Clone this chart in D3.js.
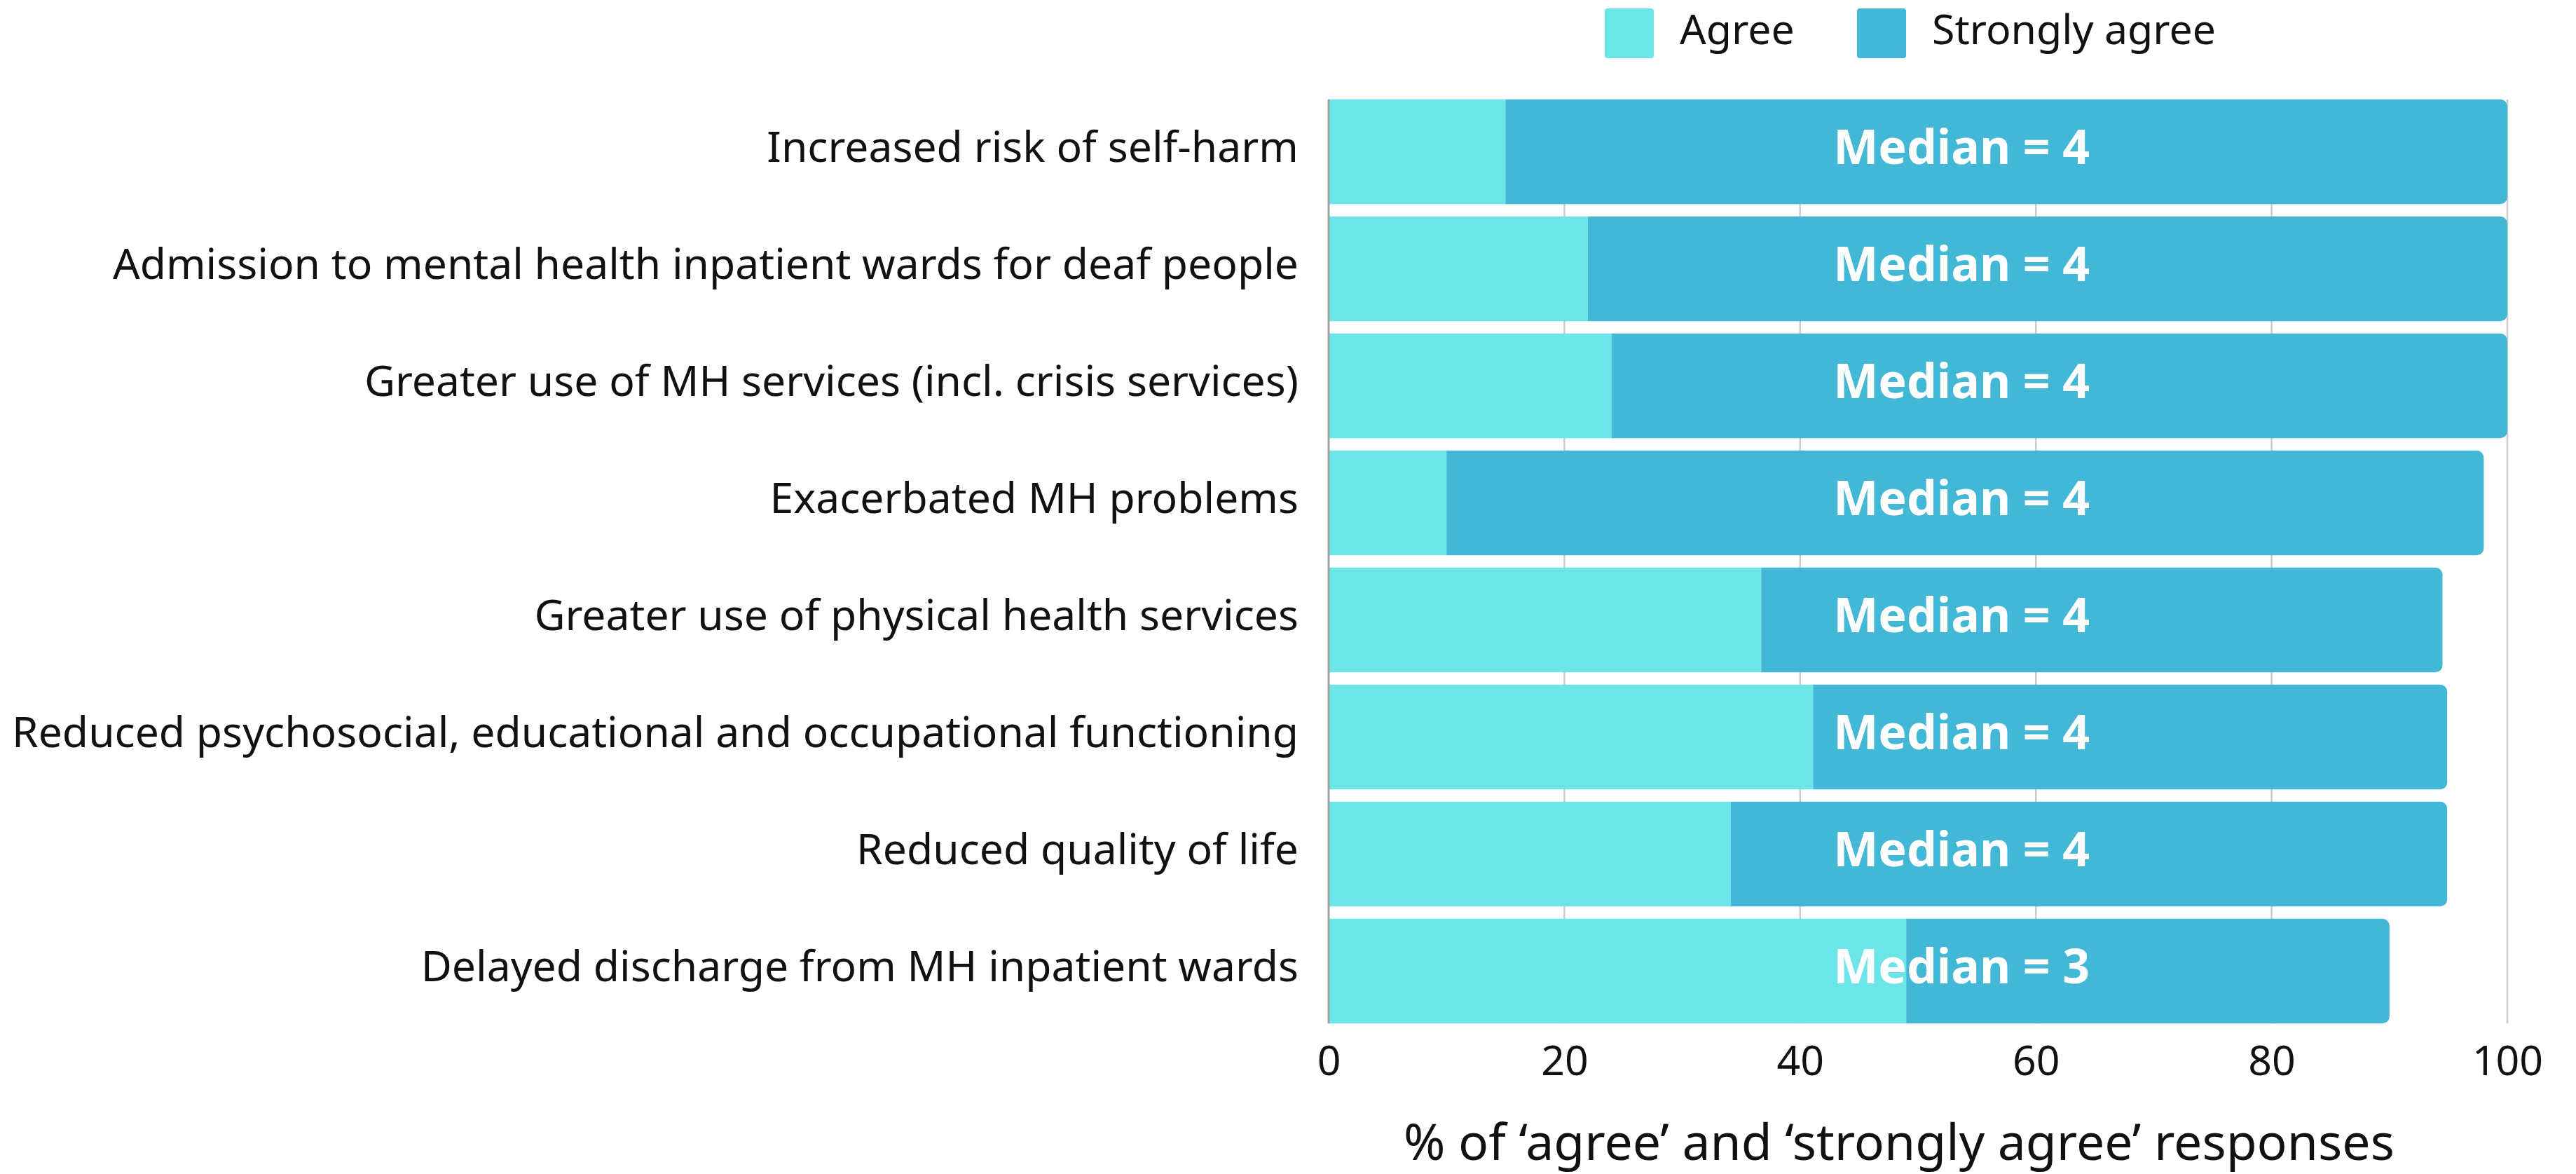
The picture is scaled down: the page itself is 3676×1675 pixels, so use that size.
<!DOCTYPE html>
<html>
<head>
<meta charset="utf-8">
<script src="https://cdn.jsdelivr.net/npm/d3@7"></script>
<style>
  html, body { margin: 0; padding: 0; background: #ffffff; }
  svg { display: block; }
</style>
</head>
<body>
<svg id="chart" width="3676" height="1675"></svg>
<script>
// Perceived consequences, ordered top to bottom
const categories = [
  "Increased risk of self-harm",
  "Admission to mental health inpatient wards for deaf people",
  "Greater use of MH services (incl. crisis services)",
  "Exacerbated MH problems",
  "Greater use of physical health services",
  "Reduced psychosocial, educational and occupational functioning",
  "Reduced quality of life",
  "Delayed discharge from MH inpatient wards"
];
// % of responses per item
const agree         = [15, 22, 24, 10, 36.7, 41.1, 34.1, 49];
const stronglyAgree = [85, 78, 76, 88, 57.8, 53.8, 60.8, 41];
const medians       = [4, 4, 4, 4, 4, 4, 4, 3];
const xTicks        = [0, 20, 40, 60, 80, 100];
const seriesNames   = ["Agree", "Strongly agree"];
const seriesColors  = ["#6ce5e8", "#42b7d6"];
const xTitle        = "% of \u2018agree\u2019 and \u2018strongly agree\u2019 responses";

const FONT = "'Noto Sans', Roboto, sans-serif";
const svg = d3.select("#chart");

const x = d3.scaleLinear().domain([0, 100]).range([1896, 3578]);
const y = d3.scaleBand().domain(categories).range([133, 1469]).paddingInner(0.105).paddingOuter(0.0525);

const rows = categories.map((c, i) => ({
  cat: c, agree: agree[i], strong: stronglyAgree[i], median: medians[i]
}));

const gridTop = y(categories[0]);
const gridBottom = y(categories[categories.length - 1]) + y.bandwidth();

// vertical gridlines behind the bars
svg.append("g")
  .selectAll("line")
  .data(xTicks.filter(t => t !== 0))
  .join("line")
  .attr("x1", d => x(d)).attr("x2", d => x(d))
  .attr("y1", gridTop).attr("y2", gridBottom)
  .attr("stroke", "#cccccc")
  .attr("stroke-width", 2.5);

// stacked bars
const barG = svg.append("g");
barG.selectAll("rect.agree")
  .data(rows)
  .join("rect")
  .attr("class", "agree")
  .attr("x", x(0))
  .attr("y", d => y(d.cat))
  .attr("width", d => x(d.agree) - x(0))
  .attr("height", y.bandwidth())
  .attr("fill", seriesColors[0]);

// "strongly agree" segment, rounded on its right end
const r = 10;
barG.selectAll("path.strong")
  .data(rows)
  .join("path")
  .attr("class", "strong")
  .attr("fill", seriesColors[1])
  .attr("d", d => {
    const x0 = x(d.agree), x1 = x(d.agree + d.strong);
    const y0 = y(d.cat), h = y.bandwidth();
    return `M${x0},${y0}H${x1 - r}A${r},${r} 0 0 1 ${x1},${y0 + r}V${y0 + h - r}A${r},${r} 0 0 1 ${x1 - r},${y0 + h}H${x0}Z`;
  });

// zero baseline
svg.append("line")
  .attr("x1", x(0)).attr("x2", x(0))
  .attr("y1", gridTop).attr("y2", gridBottom)
  .attr("stroke", "#a0a0a0")
  .attr("stroke-width", 3);

// median labels
svg.append("g")
  .selectAll("text")
  .data(rows)
  .join("text")
  .attr("x", x(53.7))
  .attr("y", d => y(d.cat) + y.bandwidth() / 2)
  .attr("dy", "0.26em")
  .attr("text-anchor", "middle")
  .attr("fill", "#ffffff")
  .attr("font-family", FONT)
  .attr("font-weight", 700)
  .attr("font-size", 68)
  .text(d => `Median = ${d.median}`);

// category axis
const yAxis = svg.append("g")
  .attr("transform", `translate(${x(0)},0)`)
  .call(d3.axisLeft(y).tickSize(0).tickPadding(43));
yAxis.select(".domain").remove();
yAxis.selectAll("text")
  .attr("dy", "0.24em")
  .attr("fill", "#111111")
  .attr("font-family", FONT)
  .attr("font-size", 60.6);

// value axis
const xAxis = svg.append("g")
  .attr("transform", `translate(0,${gridBottom})`)
  .call(d3.axisBottom(x).tickValues(xTicks).tickSize(0).tickPadding(32));
xAxis.select(".domain").remove();
xAxis.selectAll("text")
  .attr("fill", "#111111")
  .attr("font-family", FONT)
  .attr("font-size", 59);

svg.append("text")
  .attr("x", 2710)
  .attr("y", 1655)
  .attr("text-anchor", "middle")
  .attr("fill", "#111111")
  .attr("font-family", FONT)
  .attr("font-size", 71.5)
  .text(xTitle);

// legend
const legendX = [2290, 2650];
const legend = svg.append("g")
  .selectAll("g")
  .data(seriesNames)
  .join("g")
  .attr("transform", (d, i) => `translate(${legendX[i]},12)`);
legend.append("rect")
  .attr("width", 70).attr("height", 71).attr("rx", 4)
  .attr("fill", (d, i) => seriesColors[i]);
legend.append("text")
  .attr("x", 107)
  .attr("y", 51)
  .attr("fill", "#111111")
  .attr("font-family", FONT)
  .attr("font-size", 59)
  .text(d => d);
</script>
</body>
</html>
